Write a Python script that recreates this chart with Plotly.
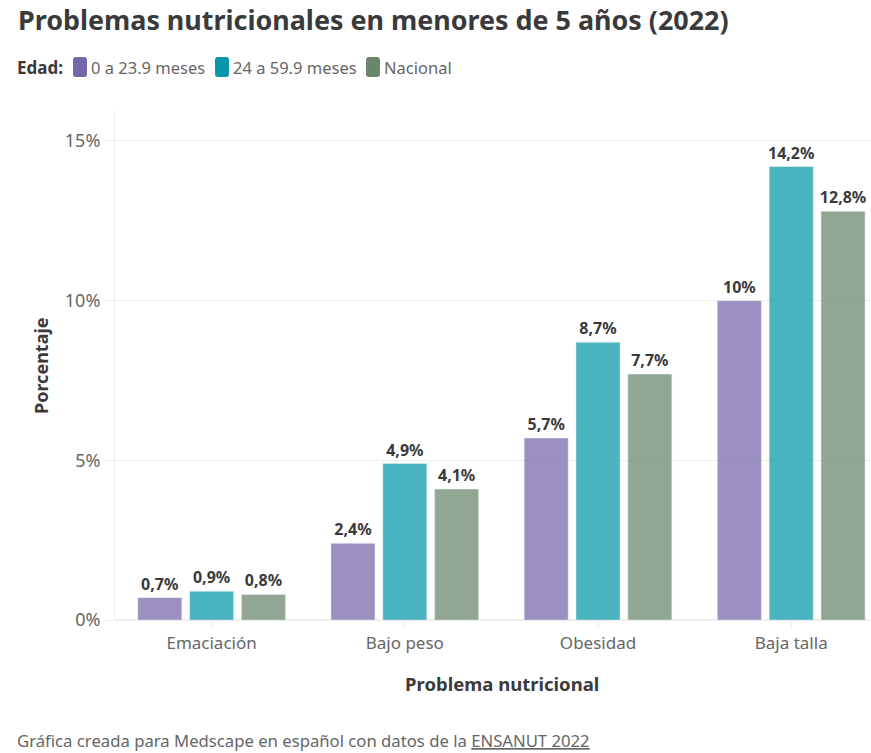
import plotly.graph_objects as go

categories = ["Emaciación", "Bajo peso", "Obesidad", "Baja talla"]
serie_a = [0.7, 2.4, 5.7, 10]
serie_b = [0.9, 4.9, 8.7, 14.2]
serie_c = [0.8, 4.1, 7.7, 12.8]
labels_a = ["0,7%", "2,4%", "5,7%", "10%"]
labels_b = ["0,9%", "4,9%", "8,7%", "14,2%"]
labels_c = ["0,8%", "4,1%", "7,7%", "12,8%"]
names = ["0 a 23.9 meses", "24 a 59.9 meses", "Nacional"]
colors = ["#7566a8", "#0598a8", "#67866a"]
FONT = "Noto Sans"

L, T, R, B = 115, 110, 0, 133
W, H = 871, 753
px = lambda v: (v - L) / (W - L - R)
py = lambda v: (H - B - v) / (H - T - B)

fig = go.Figure()
for n, v, l, c in zip(names, [serie_a, serie_b, serie_c], [labels_a, labels_b, labels_c], colors):
    fig.add_bar(x=categories, y=v, name=n, text=l, textposition="outside", cliponaxis=False,
                constraintext="none", marker=dict(color=c, opacity=0.72), textangle=0,
                textfont=dict(size=16, color="#3a3a3a", family=FONT, weight="bold"))


def note(text, x, y, size, color, anchor="left", angle=0):
    fig.add_annotation(text=text, x=px(x), y=py(y), xref="paper", yref="paper", showarrow=False,
                       xanchor=anchor, yanchor="middle", textangle=angle,
                       font=dict(size=size, color=color, family=FONT))


fig.update_layout(
    width=W, height=H, barmode="group", bargap=0.195, bargroupgap=0.15,
    paper_bgcolor="white", plot_bgcolor="white", font=dict(family=FONT, size=16, color="#555"),
    margin=dict(l=L, r=R, t=T, b=B, pad=0), autosize=False, showlegend=False,
    xaxis=dict(range=[-0.5, 3.413], showline=False, ticks="outside", ticklen=8, tickcolor="#eeeeee",
               tickfont=dict(size=17, color="#666"), showgrid=False),
    yaxis=dict(range=[0, 15.97], tickvals=[0, 5, 10, 15], ticktext=["0%", "5%", "10%", "15%"],
               gridcolor="#eeeeee", zeroline=True, zerolinecolor="#eeeeee", showline=True, linecolor="#eeeeee",
               ticks="outside", ticklen=8, tickcolor="#eeeeee", ticklabelstandoff=2,
               tickfont=dict(size=18, color="#666")),
)

note("<b>Problemas nutricionales en menores de 5 años (2022)</b>", 16, 20, 26.9, "#3a3a3a")
note("<b>Edad:</b>", 15, 67, 17, "#3a3a3a")
for x0, name, color, tx in zip([73, 215, 366], names, colors, [89, 231, 382]):
    x1, y0, y1, r = x0 + 14, 57, 77, 3
    a, b, c_, d = px(x0), px(x1), py(y0), py(y1)
    rx, ry = r / (W - L - R), r / (H - T - B)
    fig.add_shape(type="path", xref="paper", yref="paper", line_width=0, fillcolor=color,
                  path=f"M{a+rx},{c_} L{b-rx},{c_} Q{b},{c_} {b},{c_-ry} L{b},{d+ry} Q{b},{d} {b-rx},{d} "
                       f"L{a+rx},{d} Q{a},{d} {a},{d+ry} L{a},{c_-ry} Q{a},{c_} {a+rx},{c_} Z")
    note(name, tx, 67, 16.5, "#666")
note("<b>Problema nutricional</b>", 502, 683, 18.5, "#3a3a3a", "center")
note("<b>Porcentaje</b>", 41, 366, 18, "#3a3a3a", "center", -90)
note("Gráfica creada para Medscape en español con datos de la <u>ENSANUT 2022</u>", 15, 740, 16.7, "#666")
fig.write_html("out.html", config={"displayModeBar": False}, post_script="document.body.style.margin='0';")
